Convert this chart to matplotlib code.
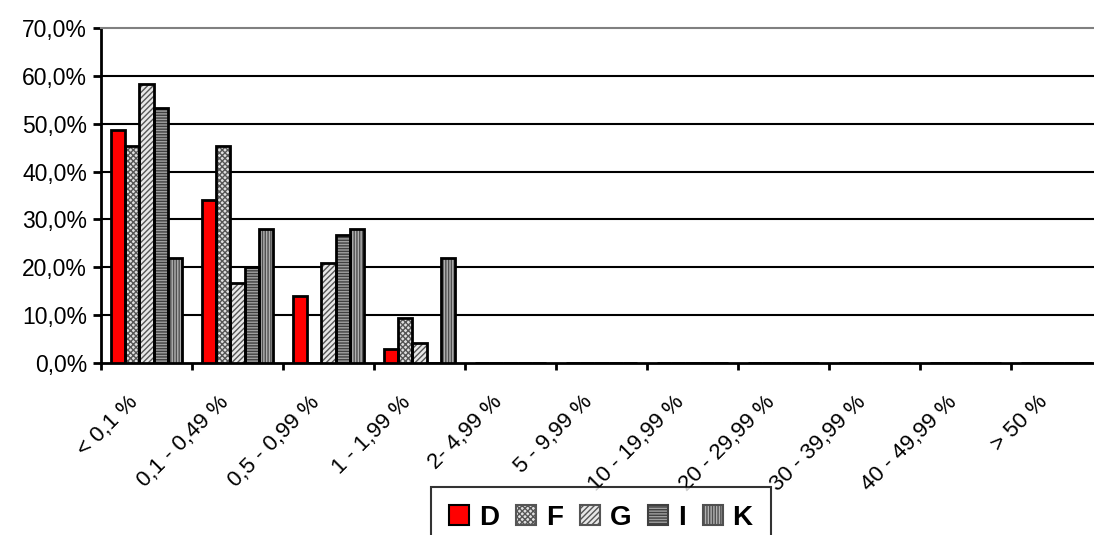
import matplotlib
matplotlib.use("Agg")
import matplotlib.pyplot as plt
import matplotlib.transforms as mtransforms
from matplotlib.patches import Patch
import numpy as np

plt.rcParams['font.family'] = ['Liberation Sans', 'DejaVu Sans']
plt.rcParams['hatch.linewidth'] = 1.0

# categories (x axis) and the five series, values in percent
categories = ["< 0,1 %", "0,1 - 0,49 %", "0,5 - 0,99 %", "1 - 1,99 %", "2- 4,99 %",
              "5 - 9,99 %", "10 - 19,99 %", "20 - 29,99 %", "30 - 39,99 %",
              "40 - 49,99 %", "> 50 %"]
series_names = ["D", "F", "G", "I", "K"]
D = [48.6, 34.0, 14.0, 2.9, 0, 0, 0, 0, 0, 0, 0]
F = [45.3, 45.3, 0, 9.3, 0, 0, 0, 0, 0, 0, 0]
G = [58.3, 16.7, 20.8, 4.2, 0, 0, 0, 0, 0, 0, 0]
I = [53.3, 20.0, 26.7, 0, 0, 0, 0, 0, 0, 0, 0]
K = [22.0, 27.9, 27.9, 22.0, 0, 0, 0, 0, 0, 0, 0]

# style per series: face, hatch, hatch colour
styles = {
    "D": ("#ff0000", None, "#ff0000"),
    "F": ("#e0e0e0", "xxxxxx", "#555555"),
    "G": ("#e8e8e8", "//////", "#555555"),
    "I": ("#a0a0a0", "------", "#404040"),
    "K": ("#b0b0b0", "||||||", "#505050"),
}

fig = plt.figure(figsize=(10.94, 5.35), dpi=100)
ax = fig.add_axes([101 / 1094, 172 / 535, 1001 / 1094, 335 / 535])

x = np.arange(len(categories))
w = 0.158
data = [D, F, G, I, K]
for k, (name, vals) in enumerate(zip(series_names, data)):
    face, hatch, hcol = styles[name]
    pos = x + (k - 2) * w
    ax.bar(pos, vals, width=w, color=face, hatch=hatch, edgecolor=hcol,
           linewidth=0, zorder=3)
    ax.bar(pos, vals, width=w, fill=False, edgecolor="black",
           linewidth=2, zorder=4)

ax.set_xlim(-0.5, len(categories) - 0.5)
ax.set_ylim(0, 70)
ax.set_yticks(np.arange(0, 71, 10))
ax.set_yticklabels([f"{v},0%" for v in range(0, 71, 10)], fontsize=16.5)
ax.tick_params(axis="y", direction="out", length=6, width=2, pad=4)

# boundary ticks as major, labels on minor ticks at the centers
ax.set_xticks(np.arange(-0.5, len(categories), 1.0))
ax.set_xticklabels([])
ax.tick_params(axis="x", which="major", direction="out", length=5, width=2)
ax.set_xticks(x, minor=True)
ax.set_xticklabels(categories, minor=True, fontsize=16, rotation=45,
                   ha="right", va="center", rotation_mode="anchor")
ax.tick_params(axis="x", which="minor", length=0, pad=26)
offset = mtransforms.ScaledTranslation(-0.12, 0, fig.dpi_scale_trans)
for lab in ax.get_xticklabels(minor=True):
    lab.set_transform(lab.get_transform() + offset)

for yv in range(10, 70, 10):
    ax.axhline(yv, color="black", linewidth=1.5, zorder=1)
ax.spines["top"].set_color("#808080")
ax.spines["top"].set_linewidth(1.5)
ax.spines["right"].set_visible(False)
ax.spines["left"].set_linewidth(2)
ax.spines["bottom"].set_linewidth(2)

handles = []
for name in series_names:
    face, hatch, hcol = styles[name]
    handles.append(Patch(facecolor=face, hatch=hatch,
                         edgecolor="black" if hatch is None else hcol,
                         linewidth=1.5, label=name))
leg = fig.legend(handles=handles, loc="upper center", ncol=5,
                 bbox_to_anchor=(601 / 1094, 48 / 535),
                 bbox_transform=fig.transFigure, borderaxespad=0,
                 prop={"weight": "bold", "size": 20},
                 frameon=True, fancybox=False, handlelength=0.72,
                 handleheight=0.72, handletextpad=0.36, columnspacing=0.6,
                 borderpad=0.65)
leg.get_frame().set_edgecolor("black")
leg.get_frame().set_linewidth(1.5)

fig.savefig("out.png", dpi=100)
